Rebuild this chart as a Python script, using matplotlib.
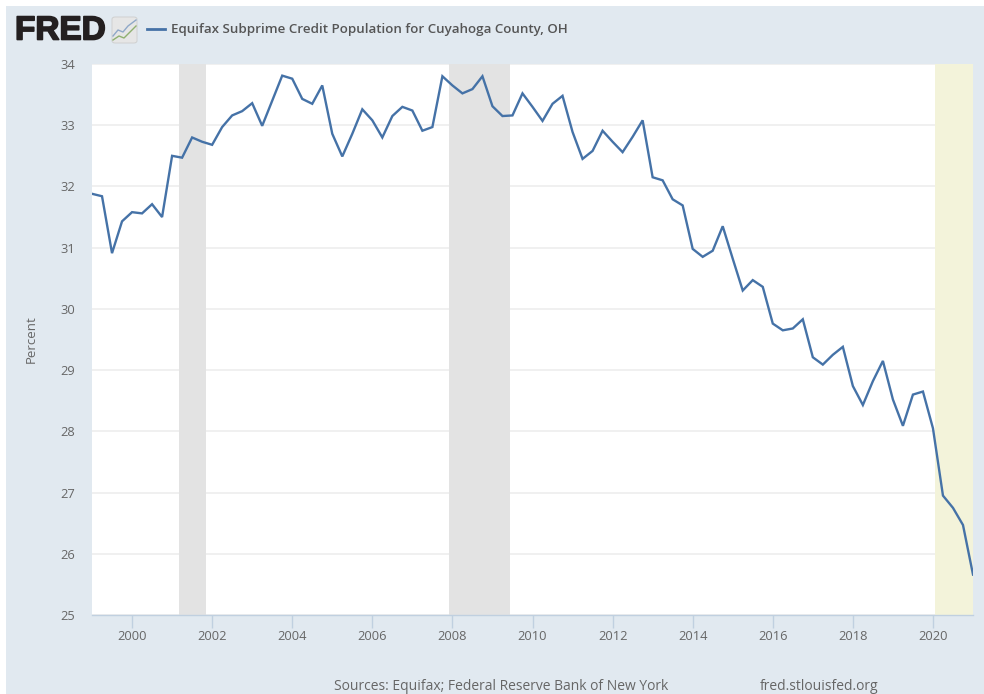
import matplotlib
matplotlib.use('Agg')
import matplotlib.pyplot as plt
import matplotlib.patheffects as pe
from matplotlib.patches import Rectangle, FancyBboxPatch
from matplotlib.lines import Line2D
import numpy as np

plt.rcParams['font.family'] = ['Open Sans', 'DejaVu Sans']

START_YEAR = 1999
values = [
    31.88, 31.84, 30.91, 31.43, 31.58, 31.56, 31.71, 31.50, 32.50, 32.47,
    32.80, 32.73, 32.68, 32.97, 33.16, 33.23, 33.36, 32.99, 33.40, 33.81,
    33.76, 33.43, 33.35, 33.65, 32.86, 32.49, 32.86, 33.26, 33.08, 32.80,
    33.15, 33.30, 33.24, 32.91, 32.97, 33.80, 33.65, 33.52, 33.59, 33.80,
    33.31, 33.15, 33.16, 33.52, 33.30, 33.07, 33.35, 33.48, 32.89, 32.45,
    32.58, 32.91, 32.73, 32.56, 32.81, 33.08, 32.15, 32.10, 31.79, 31.69,
    30.98, 30.85, 30.95, 31.35, 30.82, 30.30, 30.47, 30.36, 29.76, 29.65,
    29.68, 29.83, 29.21, 29.09, 29.25, 29.38, 28.74, 28.43, 28.82, 29.15,
    28.52, 28.09, 28.60, 28.65, 28.05, 26.95, 26.75, 26.47, 25.66,
]
recessions = [(2001.17, 2001.85), (2007.92, 2009.43)]
covid_band = (2020.06, 2021.0)
year_ticks = list(range(2000, 2022, 2))
y_ticks = list(range(25, 35))

W, H = 984, 694
BG = '#e1e9f0'
TEXT = '#666666'
LINE = '#4572a7'

quarters = START_YEAR + np.arange(len(values)) / 4

fig = plt.figure(figsize=(W / 100, H / 100), dpi=100, facecolor='white')
fig.add_artist(Rectangle((6 / W, 0), 1, 1 - 6 / H, transform=fig.transFigure,
                         facecolor=BG, edgecolor='none', zorder=-5))

ax = fig.add_axes([92 / W, 1 - 615 / H, (973 - 92) / W, (615 - 64) / H])
ax.set_facecolor('white')
ax.set_xlim(START_YEAR, 2021.0)
ax.set_ylim(25, 34)

for a, b in recessions:
    ax.axvspan(a, b, facecolor='#e3e3e3', edgecolor='none', zorder=2)
ax.axvspan(covid_band[0], covid_band[1], facecolor='#f3f3da', edgecolor='none', zorder=2)

ax.set_yticks(y_ticks)
ax.set_xticks(year_ticks)
ax.grid(axis='y', color='#f0f0f0', linewidth=1.4, zorder=1)
ax.set_axisbelow(True)
ax.plot(quarters, values, color=LINE, linewidth=1.7, zorder=4,
        solid_joinstyle='miter', clip_on=True)

for side in ['top', 'left', 'right']:
    ax.spines[side].set_visible(False)
ax.spines['bottom'].set_color('#c0d0e0')
ax.spines['bottom'].set_linewidth(1.0)
ax.tick_params(axis='x', length=9.5, width=1, color='#c0d0e0', labelcolor=TEXT,
               labelsize=9.3, pad=1)
ax.tick_params(axis='y', length=0, labelcolor=TEXT, labelsize=9.3, pad=12)
ax.set_ylabel('Percent', color=TEXT, fontsize=9.5)
ax.yaxis.set_label_coords((38 - 92) / (973 - 92), 0.5)


def fig_text(x, y, s, **kw):
    # positions given in reference pixels, y from the top
    return fig.text(x / W, 1 - y / H, s, va='center', **kw)


# header
fig_text(15, 31, 'FRED', color='#231f20', fontsize=24, fontweight='bold',
         family=['Liberation Sans'],
         path_effects=[pe.withStroke(linewidth=1.2, foreground='#231f20')])
fig.add_artist(FancyBboxPatch((112 / W, 1 - 43 / H), 25 / W, 26 / H,
                              boxstyle='round,pad=0,rounding_size=0.003',
                              transform=fig.transFigure, facecolor='#e6e6e6',
                              edgecolor='#cccccc', linewidth=0.6))
fig.add_artist(Line2D([113 / W, 118 / W, 123 / W, 128 / W, 136 / W],
                      [1 - 36 / H, 1 - 30 / H, 1 - 32 / H, 1 - 26 / H, 1 - 20 / H],
                      color='#8fa8c8', linewidth=1.0))
fig.add_artist(Line2D([113 / W, 119 / W, 124 / W, 129 / W, 136 / W],
                      [1 - 40 / H, 1 - 36 / H, 1 - 38 / H, 1 - 33 / H, 1 - 26 / H],
                      color='#8fb070', linewidth=1.0))
fig.add_artist(Line2D([147 / W, 165 / W], [1 - 29 / H, 1 - 29 / H],
                      color=LINE, linewidth=2.0))
fig_text(171, 30, 'Equifax Subprime Credit Population for Cuyahoga County, OH',
         color='#555555', fontsize=9.64, fontweight='semibold')

# footer
fig_text(334, 686, 'Sources: Equifax; Federal Reserve Bank of New York',
         color=TEXT, fontsize=10)
fig_text(760, 686, 'fred.stlouisfed.org', color=TEXT, fontsize=10)

fig.savefig('out.png', dpi=100, facecolor=fig.get_facecolor())
